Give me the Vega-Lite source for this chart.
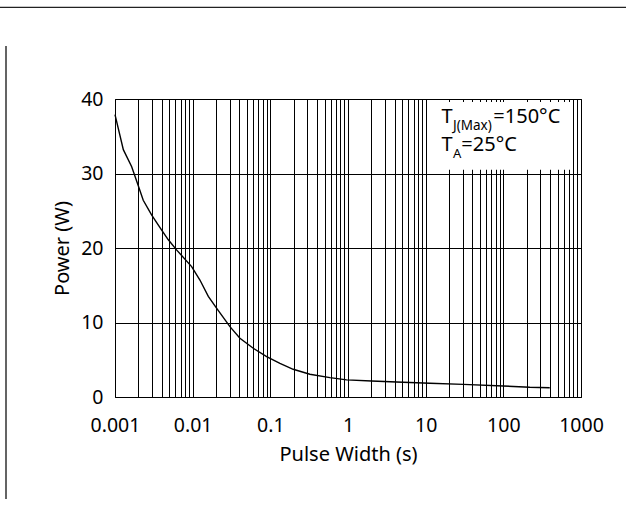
{
  "$schema": "https://vega.github.io/schema/vega-lite/v6.json",
  "width": 466,
  "height": 298,
  "autosize": {"type": "none"},
  "padding": {"left": 115, "top": 99, "right": 45, "bottom": 134},
  "background": "white",
  "config": {
    "font": "Noto Sans",
    "view": {"stroke": "black", "strokeWidth": 1},
    "axis": {
      "labelColor": "black", "titleColor": "black", "labelFont": "Noto Sans", "titleFont": "Noto Sans",
      "gridColor": "black", "gridOpacity": 1, "gridWidth": 1, "ticks": false, "tickSize": 0, "domain": false,
      "titleFontWeight": "normal"
    }
  },
  "datasets": {
    "curve": [
      {"x": 0.001, "y": 37.9}, {"x": 0.00128, "y": 33.2}, {"x": 0.00164, "y": 30.9},
      {"x": 0.00202, "y": 28.2}, {"x": 0.00231, "y": 26.4}, {"x": 0.00297, "y": 24.4},
      {"x": 0.00399, "y": 22.4}, {"x": 0.00486, "y": 21.1}, {"x": 0.0062, "y": 19.75},
      {"x": 0.0097, "y": 17.5}, {"x": 0.0124, "y": 15.7}, {"x": 0.0159, "y": 13.5},
      {"x": 0.0204, "y": 11.9}, {"x": 0.0302, "y": 9.44}, {"x": 0.0406, "y": 7.88},
      {"x": 0.0603, "y": 6.54}, {"x": 0.0896, "y": 5.41}, {"x": 0.133, "y": 4.52},
      {"x": 0.197, "y": 3.72}, {"x": 0.323, "y": 3.05}, {"x": 0.585, "y": 2.6},
      {"x": 0.96, "y": 2.3}, {"x": 2.01, "y": 2.15}, {"x": 4.22, "y": 2.01},
      {"x": 11.3, "y": 1.84}, {"x": 30.4, "y": 1.7}, {"x": 99.5, "y": 1.48},
      {"x": 219, "y": 1.3}, {"x": 396, "y": 1.25}
    ],
    "box": [{"x": 10.7, "x2": 740, "y": 30.5, "y2": 39.6}],
    "mainText": [
      {"x": 16.0, "y": 36.74, "t": "T"}, {"x": 74.3, "y": 36.74, "t": "=150°C"},
      {"x": 16.0, "y": 33.02, "t": "T"}, {"x": 28.8, "y": 33.02, "t": "=25°C"}
    ],
    "subText": [
      {"x": 22.52, "y": 35.84, "t": "J(Max)", "s": 13.5}, {"x": 22.52, "y": 32.08, "t": "A", "s": 13}
    ],
    "frame": [
      {"x": 0.00001, "x2": 100000, "y": 52.3, "y2": 52.3},
      {"x": 0.0000395, "x2": 0.0000395, "y": 47.1, "y2": -13.7}
    ]
  },
  "encoding": {
    "x": {
      "field": "x", "type": "quantitative",
      "scale": {"type": "log", "domain": [0.001, 1000], "nice": false},
      "axis": {
        "title": "Pulse Width (s)", "titleFontSize": 20, "titlePadding": 10,
        "labelFontSize": 19.5, "labelPadding": 19, "labelFlush": false, "labelOverlap": false,
        "format": "~g",
        "values": [0.001,0.002,0.003,0.004,0.005,0.006,0.007,0.008,0.009,
                   0.01,0.02,0.03,0.04,0.05,0.06,0.07,0.08,0.09,
                   0.1,0.2,0.3,0.4,0.5,0.6,0.7,0.8,0.9,
                   1,2,3,4,5,6,7,8,9,
                   10,20,30,40,50,60,70,80,90,
                   100,200,300,400,500,600,700,800,900,1000],
        "labelExpr": "indexof(['0.001','0.01','0.1','1','10','100','1000'], datum.label) >= 0 ? datum.label : ''"
      }
    },
    "y": {
      "field": "y", "type": "quantitative",
      "scale": {"domain": [0, 40], "nice": false, "zero": false},
      "axis": {
        "title": "Power (W)", "titleFontSize": 20, "titlePadding": 8,
        "labelFontSize": 19.5, "labelPadding": 12, "values": [0, 10, 20, 30, 40]
      }
    }
  },
  "layer": [
    {
      "data": {"name": "box"},
      "mark": {"type": "rect", "fill": "white", "stroke": null},
      "encoding": {"x2": {"field": "x2"}, "y2": {"field": "y2"}}
    },
    {
      "data": {"name": "curve"},
      "mark": {"type": "line", "color": "black", "strokeWidth": 1.4},
      "encoding": {}
    },
    {
      "data": {"name": "mainText"},
      "mark": {"type": "text", "align": "left", "baseline": "alphabetic", "fontSize": 20, "color": "black"},
      "encoding": {"text": {"field": "t"}}
    },
    {
      "data": {"name": "subText"},
      "mark": {"type": "text", "align": "left", "baseline": "alphabetic", "color": "black"},
      "encoding": {"text": {"field": "t"}, "size": {"field": "s", "type": "quantitative", "scale": null}}
    },
    {
      "data": {"name": "frame"},
      "mark": {"type": "rule", "color": "#222", "strokeWidth": 1.4},
      "encoding": {"x2": {"field": "x2"}, "y2": {"field": "y2"}}
    }
  ]
}
